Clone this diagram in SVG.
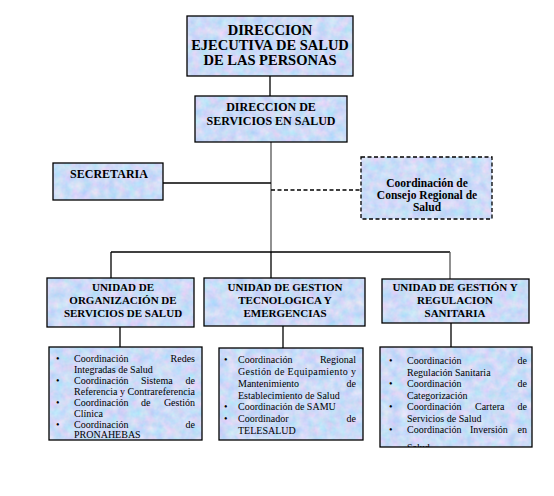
<svg xmlns="http://www.w3.org/2000/svg" width="554" height="496" viewBox="0 0 554 496" font-family="'Liberation Serif','Times New Roman',serif">
<style>
text{font-family:"Liberation Serif","Times New Roman",serif;fill:#000}
.h{font-weight:bold;text-anchor:middle}
.t{font-size:10px}
.e{text-anchor:end}
.box{fill:none;stroke:#000;stroke-width:1.3}
.ln{fill:none;stroke:#000;stroke-width:1.3}
.tr{fill:none;stroke:#555;stroke-width:1.3}
</style>
<defs>
<filter id="tex" x="0" y="0" width="1" height="1" color-interpolation-filters="sRGB">
<feTurbulence type="fractalNoise" baseFrequency="0.11" numOctaves="3" seed="5"/>
<feColorMatrix type="matrix" values="0.32 0 0 0 0.64  0 0.16 0 0 0.78  0 0 0.06 0 0.94  0 0 0 0 1"/>
<feComposite in2="SourceGraphic" operator="in"/>
</filter>
<clipPath id="clipC"><rect x="380" y="347" width="152" height="100"/></clipPath>
</defs>
<rect width="554" height="496" fill="#fff"/>

<g id="connectors">
<line class="ln" x1="270" y1="76" x2="270" y2="96"/>
<line class="tr" x1="271" y1="142" x2="271" y2="252"/>
<line class="ln" x1="163" y1="183" x2="271" y2="183"/>
<line class="ln" x1="271" y1="190" x2="361" y2="190" stroke-dasharray="4,2.5"/>
<line class="ln" x1="111" y1="252" x2="450" y2="252"/>
<line class="ln" x1="111" y1="252" x2="111" y2="278"/>
<line class="ln" x1="271" y1="252" x2="271" y2="278"/>
<line class="tr" x1="450" y1="252" x2="450" y2="279"/>
<line class="ln" x1="120" y1="327" x2="120" y2="347"/>
<line class="ln" x1="283" y1="326" x2="283" y2="348"/>
<line class="ln" x1="451" y1="323" x2="451" y2="347"/>
</g>

<g id="dir-ejecutiva">
<rect x="187" y="16" width="166" height="60" fill="#fff" filter="url(#tex)"/>
<rect class="box" x="187" y="16" width="166" height="60"/>
<text class="h" style="font-size:14.5px" x="270" y="35">DIRECCION</text>
<text class="h" style="font-size:14.5px" x="270" y="50">EJECUTIVA DE SALUD</text>
<text class="h" style="font-size:14.5px" x="270" y="65">DE LAS PERSONAS</text>
</g>

<g id="dir-servicios">
<rect x="195" y="96" width="152" height="46" fill="#fff" filter="url(#tex)"/>
<rect class="box" x="195" y="96" width="152" height="46"/>
<text class="h" style="font-size:12px" x="271" y="111">DIRECCION DE</text>
<text class="h" style="font-size:12px" x="271" y="125">SERVICIOS EN SALUD</text>
</g>

<g id="secretaria">
<rect x="53" y="163" width="110" height="37" fill="#fff" filter="url(#tex)"/>
<rect class="box" x="53" y="163" width="110" height="37"/>
<text class="h" style="font-size:12px" x="109" y="178">SECRETARIA</text>
</g>

<g id="consejo">
<rect x="361" y="157" width="131" height="62" fill="#fff" filter="url(#tex)"/>
<rect class="box" x="361" y="157" width="131" height="62" stroke-dasharray="4,2.5"/>
<text class="h" style="font-size:11.5px" x="427" y="187">Coordinación de</text>
<text class="h" style="font-size:11.5px" x="427" y="199">Consejo Regional de</text>
<text class="h" style="font-size:11.5px" x="427" y="211">Salud</text>
</g>

<g id="unidad-organizacion">
<rect x="47" y="278" width="147" height="49" fill="#fff" filter="url(#tex)"/>
<rect class="box" x="47" y="278" width="147" height="49"/>
<text class="h" style="font-size:11px" x="123" y="291">UNIDAD DE</text>
<text class="h" style="font-size:11px" x="123" y="304">ORGANIZACIÓN DE</text>
<text class="h" style="font-size:11px" x="123" y="317">SERVICIOS DE SALUD</text>
</g>

<g id="unidad-tecnologica">
<rect x="204" y="278" width="161" height="48" fill="#fff" filter="url(#tex)"/>
<rect class="box" x="204" y="278" width="161" height="48"/>
<text class="h" style="font-size:11px" x="285" y="291">UNIDAD DE GESTION</text>
<text class="h" style="font-size:11px" x="285" y="304">TECNOLOGICA Y</text>
<text class="h" style="font-size:11px" x="285" y="317">EMERGENCIAS</text>
</g>

<g id="unidad-regulacion">
<rect x="382" y="279" width="147" height="44" fill="#fff" filter="url(#tex)"/>
<rect class="box" x="382" y="279" width="147" height="44"/>
<text class="h" style="font-size:11px" x="455" y="291">UNIDAD DE GESTIÓN Y</text>
<text class="h" style="font-size:11px" x="455" y="304">REGULACION</text>
<text class="h" style="font-size:11px" x="455" y="317">SANITARIA</text>
</g>

<g id="lista-organizacion">
<rect x="49" y="347" width="153" height="93" fill="#fff" filter="url(#tex)"/>
<rect class="box" x="49" y="347" width="153" height="93"/>
<text class="t" x="56" y="362">•</text>
<text class="t" x="74" y="362">Coordinación</text>
<text class="t e" x="195" y="362">Redes</text>
<text class="t" x="74" y="373">Integradas de Salud</text>
<text class="t" x="56" y="384">•</text>
<text class="t" x="74" y="384">Coordinación</text>
<text class="t" x="141" y="384">Sistema</text>
<text class="t e" x="195" y="384">de</text>
<text class="t" x="74" y="395" textLength="121" lengthAdjust="spacing">Referencia y Contrareferencia</text>
<text class="t" x="56" y="406">•</text>
<text class="t" x="74" y="406">Coordinación</text>
<text class="t" x="141" y="406">de</text>
<text class="t e" x="195" y="406">Gestión</text>
<text class="t" x="74" y="417">Clínica</text>
<text class="t" x="56" y="428">•</text>
<text class="t" x="74" y="428">Coordinación</text>
<text class="t e" x="195" y="428">de</text>
<text class="t" x="74" y="438">PRONAHEBAS</text>
</g>

<g id="lista-tecnologica">
<rect x="219" y="348" width="144" height="92" fill="#fff" filter="url(#tex)"/>
<rect class="box" x="219" y="348" width="144" height="92"/>
<text class="t" x="224" y="363">•</text>
<text class="t" x="238" y="363">Coordinación</text>
<text class="t e" x="356" y="363">Regional</text>
<text class="t" x="238" y="375" textLength="118" lengthAdjust="spacing">Gestión de Equipamiento y</text>
<text class="t" x="238" y="387">Mantenimiento</text>
<text class="t e" x="356" y="387">de</text>
<text class="t" x="238" y="398.5">Establecimiento de Salud</text>
<text class="t" x="224" y="410">•</text>
<text class="t" x="238" y="410">Coordinación de SAMU</text>
<text class="t" x="224" y="422">•</text>
<text class="t" x="238" y="422">Coordinador</text>
<text class="t e" x="356" y="422">de</text>
<text class="t" x="238" y="434">TELESALUD</text>
</g>

<g id="lista-regulacion">
<rect x="380" y="347" width="152" height="100" fill="#fff" filter="url(#tex)"/>
<rect class="box" x="380" y="347" width="152" height="100"/>
<g clip-path="url(#clipC)">
<text class="t" x="389" y="364">•</text>
<text class="t" x="407" y="364">Coordinación</text>
<text class="t e" x="527" y="364">de</text>
<text class="t" x="407" y="375.5">Regulación Sanitaria</text>
<text class="t" x="389" y="387">•</text>
<text class="t" x="407" y="387">Coordinación</text>
<text class="t e" x="527" y="387">de</text>
<text class="t" x="407" y="398.5">Categorización</text>
<text class="t" x="389" y="410">•</text>
<text class="t" x="407" y="410">Coordinación</text>
<text class="t" x="475" y="410">Cartera</text>
<text class="t e" x="527" y="410">de</text>
<text class="t" x="407" y="421.5">Servicios de Salud</text>
<text class="t" x="389" y="433">•</text>
<text class="t" x="407" y="433">Coordinación</text>
<text class="t" x="470" y="433">Inversión</text>
<text class="t e" x="527" y="433">en</text>
<text class="t" x="407" y="451">Salud</text>
</g>
</g>
</svg>
